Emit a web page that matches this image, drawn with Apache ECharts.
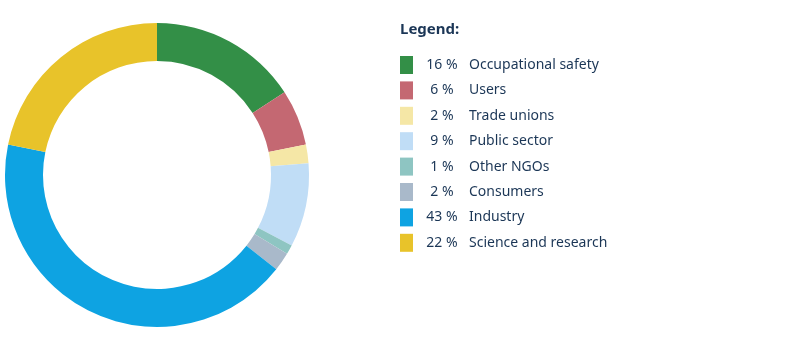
<!DOCTYPE html>
<html lang="en">
<head>
    <meta charset="UTF-8">
    <title>Donut</title>
    <script src="https://cdn.jsdelivr.net/npm/echarts@6/dist/echarts.min.js"></script>
    <style>
        html, body { margin: 0; padding: 0; background: #fff; }
    </style>
</head>
<body>
    <div id="main" style="width: 801px;height:351px;"></div>
</body>

<script>
    // data
    var names = ['Occupational safety', 'Users', 'Trade unions', 'Public sector', 'Other NGOs', 'Consumers', 'Industry', 'Science and research'];
    var shares = [16, 6, 2, 9, 1, 2, 43, 22];
    var colors = ['#338f47', '#c46872', '#f5e7a6', '#c0ddf6', '#8ec5c2', '#a9b9ca', '#0ea3e2', '#e8c32a'];

    var textColor = '#1b3656';
    var fontFam = '"Noto Sans", "DejaVu Sans", sans-serif';

    var myChart = echarts.init(document.getElementById('main'));

    var pieData = [];
    for (var i = 0; i < names.length; i++) {
        pieData.push({ name: names[i], value: shares[i], itemStyle: { color: colors[i] } });
    }

    var option = {
        animation: false,
        title: {
            text: 'Legend:',
            left: 400,
            top: 22,
            padding: 0,
            textStyle: { color: textColor, fontSize: 15, fontWeight: 'bold', fontFamily: fontFam }
        },
        legend: {
            orient: 'vertical',
            left: 400,
            top: 56,
            padding: 0,
            icon: 'rect',
            itemWidth: 13,
            itemHeight: 18,
            itemGap: 7.4,
            selectedMode: false,
            formatter: function (name) {
                var idx = names.indexOf(name);
                return '{p|' + shares[idx] + ' %}{n|' + name + '}';
            },
            textStyle: {
                color: textColor,
                fontFamily: fontFam,
                fontSize: 14,
                rich: {
                    p: { width: 48, align: 'right', color: textColor, fontSize: 14, fontFamily: fontFam, lineHeight: 18 },
                    n: { padding: [0, 0, 0, 3], color: textColor, fontSize: 14, fontFamily: fontFam, lineHeight: 18 }
                }
            },
            data: names
        },
        series: [{
            type: 'pie',
            center: [157, 175],
            radius: [114, 152],
            startAngle: 90,
            clockwise: true,
            label: { show: false },
            labelLine: { show: false },
            emphasis: { disabled: true },
            data: pieData
        }]
    };

    myChart.setOption(option);
</script>
</html>
